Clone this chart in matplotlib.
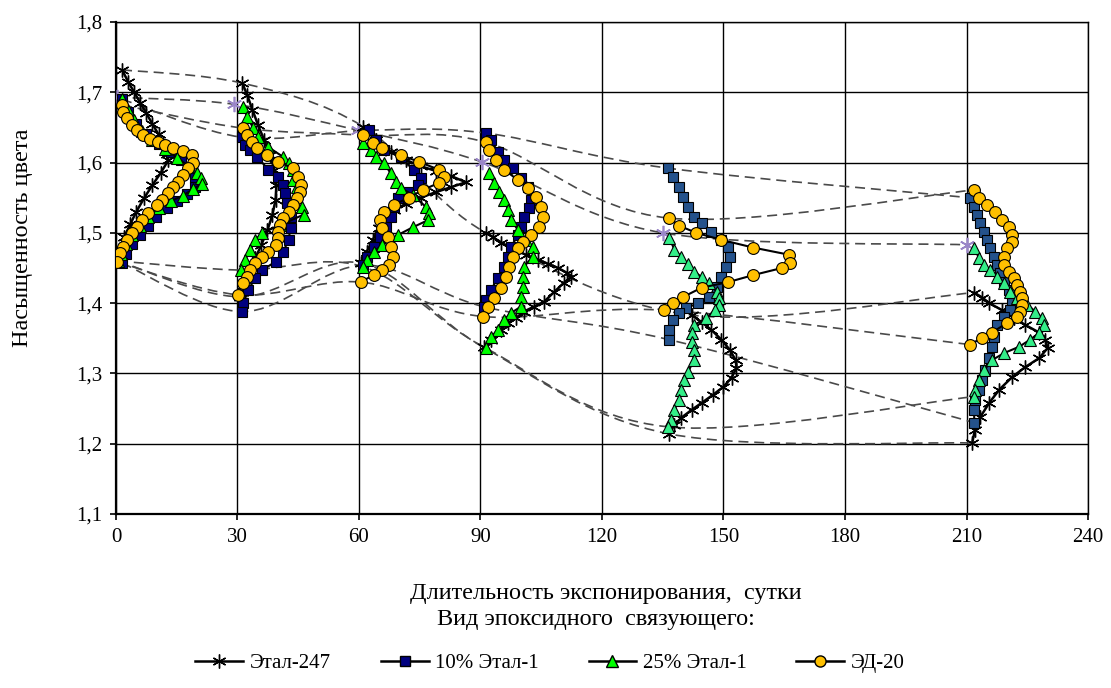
import numpy as np
import matplotlib
matplotlib.use("Agg")
import matplotlib.pyplot as plt
from matplotlib.path import Path
from matplotlib.patches import PathPatch
from matplotlib.lines import Line2D
from matplotlib.ticker import FuncFormatter

plt.rcParams['font.family'] = ['Liberation Serif', 'DejaVu Serif']

# Этал-247, points (days, saturation) for each exposure group
e247_0 = [(1.5,1.732),(3,1.715),(4.5,1.70),(6,1.685),(7.5,1.67),(9,1.655),(10.5,1.64),(11.5,1.625),
          (12.5,1.612),(12.9,1.603),(11,1.585),(9,1.568),(7,1.55),(5,1.53),(3.5,1.512),(2,1.494),(1,1.477),(0.5,1.46)]
e247_30 = [(31.2,1.713),(32.4,1.696),(33.7,1.675),(35.1,1.653),(36.6,1.632),(38.1,1.611),(39.1,1.589),(39.6,1.568),
           (39.4,1.547),(38.6,1.525),(37.4,1.504),(35.9,1.483),(34.4,1.464),(32.9,1.444),(31.7,1.426),(30.7,1.409)]
e247_60 = [(61.1,1.651),(64.1,1.632),(67.8,1.615),(71.5,1.604),(75.2,1.595),(79.0,1.588),(82.7,1.581),(86.4,1.572),
           (82.7,1.565),(79.0,1.558),(75.2,1.550),(71.5,1.541),(68.6,1.533),(66.6,1.521),(64.9,1.507),(63.4,1.490),
           (61.9,1.473),(60.6,1.457)]
e247_90 = [(91.3,1.500),(93.1,1.494),(95.0,1.486),(98.3,1.476),(101.2,1.469),(104.2,1.462),(106.7,1.456),(109.2,1.450),
           (111.4,1.443),(112.4,1.437),(110.6,1.429),(108.2,1.416),(105.7,1.402),(103.2,1.395),(100.7,1.388),(98.8,1.379),
           (96.8,1.372),(95.0,1.362),(92.6,1.348),(90.8,1.337)]
e247_135 = [(142.1,1.383),(144.6,1.373),(147.0,1.362),(149.5,1.348),(151.5,1.334),(153.0,1.319),(153.2,1.308),(152.0,1.294),
            (150.0,1.281),(147.5,1.270),(144.6,1.258),(142.1,1.248),(139.6,1.237),(137.9,1.227),(136.6,1.214)]
e247_210 = [(211.9,1.415),(213.9,1.408),(215.6,1.400),(218.8,1.390),(221.8,1.379),(224.5,1.369),(228.0,1.358),(229.5,1.348),
            (230.0,1.336),(228.0,1.322),(224.5,1.309),(221.3,1.295),(218.1,1.277),(215.6,1.258),(213.4,1.238),(212.1,1.220),
            (211.4,1.201)]

# 10% Этал-1
b10_0 = [(1.5,1.69),(3,1.672),(5,1.655),(7.5,1.64),(10.5,1.627),(13.5,1.615),(16,1.603),(18,1.59),(19.5,1.578),
         (19.5,1.565),(17.5,1.555),(15,1.545),(12.5,1.535),(10,1.522),(8,1.51),(6,1.497),(4,1.484),(2.5,1.47),(1.5,1.457)]
b10_30 = [(31.2,1.636),(31.9,1.625),(33.2,1.618),(34.9,1.608),(37.6,1.590),(40.1,1.580),(41.3,1.568),(41.8,1.557),
          (42.3,1.543),(43.1,1.523),(43.1,1.507),(42.6,1.490),(41.3,1.473),(39.4,1.459),(36.1,1.447),(34.4,1.436),
          (32.7,1.419),(31.4,1.400),(31.2,1.388)]
b10_60 = [(62.4,1.646),(64.1,1.632),(66.1,1.618),(70.3,1.608),(73.5,1.590),(75.2,1.578),(74.5,1.568),(72.0,1.558),
          (69.6,1.550),(68.6,1.537),(67.8,1.523),(66.6,1.508),(65.3,1.494),(63.6,1.480),(62.1,1.466),(61.1,1.454)]
b10_90 = [(91.3,1.642),(92.6,1.632),(94.3,1.615),(95.8,1.604),(98.0,1.592),(100.0,1.578),(101.7,1.565),(102.5,1.547),
          (102.0,1.535),(100.7,1.523),(100.0,1.508),(99.3,1.497),(97.5,1.480),(96.8,1.466),(95.8,1.452),(94.3,1.436),
          (92.6,1.419),(91.3,1.405),(90.8,1.395)]
b10_135 = [(136.4,1.592),(137.6,1.580),(138.9,1.565),(140.1,1.551),(141.3,1.537),(142.6,1.523),(144.6,1.514),(147.0,1.501),
           (149.5,1.490),(151.2,1.480),(151.5,1.466),(150.7,1.452),(149.5,1.437),(148.3,1.423),(146.3,1.409),(143.8,1.400),
           (140.8,1.393),(138.9,1.386),(137.6,1.376),(136.6,1.362),(136.6,1.348)]
b10_210 = [(210.9,1.550),(211.9,1.537),(212.6,1.526),(213.4,1.514),(214.4,1.501),(215.1,1.490),(215.8,1.479),(216.8,1.466),
           (217.6,1.454),(218.3,1.443),(219.3,1.430),(220.5,1.419),(221.3,1.400),(220.8,1.390),(219.3,1.381),(217.6,1.369),
           (216.8,1.352),(216.3,1.338),(215.6,1.322),(214.6,1.305),(213.9,1.291),(213.1,1.277),(212.1,1.262),(211.9,1.248),
           (211.9,1.230)]

# 25% Этал-1
g25_0 = [(1.5,1.69),(3,1.675),(4.5,1.66),(6.5,1.645),(9,1.632),(12,1.62),(15,1.607),(18,1.595),(20,1.585),(21,1.578),
         (21.3,1.57),(19,1.562),(16.5,1.553),(13.5,1.545),(10.5,1.535),(8,1.523),(6,1.51),(4,1.497),(2.5,1.484),
         (1.2,1.47),(0.5,1.46)]
g25_30 = [(31.4,1.679),(32.4,1.665),(33.9,1.649),(35.1,1.636),(37.6,1.622),(41.3,1.608),(42.6,1.599),(43.6,1.589),
          (43.8,1.575),(44.8,1.565),(46.0,1.537),(46.3,1.526),(40.6,1.511),(36.1,1.500),(34.4,1.490),(33.2,1.476),
          (31.9,1.462),(30.9,1.447)]
g25_60 = [(61.1,1.628),(62.9,1.618),(64.1,1.608),(66.1,1.600),(67.8,1.585),(69.1,1.572),(70.3,1.564),(73.3,1.554),
          (76.5,1.537),(77.2,1.528),(77.0,1.518),(73.3,1.508),(69.6,1.497),(65.8,1.483),(63.6,1.473),(62.1,1.462),
          (60.9,1.452)]
g25_90 = [(92.1,1.585),(93.3,1.571),(94.6,1.558),(95.8,1.547),(96.8,1.533),(97.5,1.518),(99.3,1.504),(101.2,1.490),
          (103.0,1.480),(103.0,1.466),(100.7,1.452),(100.5,1.437),(100.5,1.423),(100.0,1.409),(100.0,1.395),(97.5,1.386),
          (95.8,1.376),(94.3,1.362),(92.6,1.352),(91.3,1.336)]
g25_135 = [(136.6,1.493),(137.9,1.476),(139.6,1.466),(141.3,1.455),(142.8,1.445),(144.6,1.437),(146.5,1.429),(148.3,1.416),
           (149.0,1.408),(149.0,1.398),(147.8,1.390),(145.8,1.379),(142.8,1.369),(142.1,1.358),(142.1,1.345),(142.6,1.334),
           (142.6,1.319),(141.3,1.302),(140.3,1.291),(139.6,1.277),(138.9,1.262),(137.9,1.248),(137.1,1.234),(136.4,1.224)]
g25_210 = [(211.9,1.479),(213.1,1.464),(214.4,1.454),(215.8,1.447),(217.6,1.437),(219.3,1.429),(220.8,1.416),(222.5,1.408),
           (225.0,1.398),(227.0,1.388),(228.7,1.379),(229.2,1.369),(228.0,1.358),(225.7,1.348),(223.0,1.338),(219.3,1.329),
           (216.3,1.319),(214.4,1.305),(213.1,1.291),(212.1,1.277),(211.9,1.267)]

# ЭД-20
y20_0 = [(1.5,1.682),(1.7,1.672),(2.7,1.664),(4.0,1.654),(5.2,1.646),(6.7,1.639),(8.4,1.634),(10.4,1.629),(12.1,1.625),
         (14.1,1.621),(16.6,1.617),(18.8,1.611),(19.1,1.599),(17.8,1.592),(16.6,1.582),(15.3,1.572),(14.1,1.565),
         (12.9,1.557),(11.4,1.547),(10.1,1.540),(7.9,1.528),(6.4,1.518),(5.2,1.508),(4.0,1.500),(2.7,1.490),(1.7,1.480),
         (1.0,1.471),(0.2,1.459)]
y20_30 = [(31.4,1.649),(32.4,1.639),(33.7,1.629),(34.9,1.621),(37.4,1.611),(40.1,1.601),(43.6,1.592),(45.0,1.580),
          (45.8,1.568),(45.5,1.558),(44.8,1.550),(43.8,1.540),(42.6,1.530),(41.3,1.521),(40.6,1.511),(40.1,1.501),
          (39.9,1.493),(39.4,1.483),(37.6,1.473),(36.1,1.466),(34.4,1.457),(33.2,1.447),(32.4,1.437),(31.4,1.429),
          (30.2,1.412)]
y20_60 = [(61.1,1.639),(63.4,1.628),(65.8,1.621),(70.3,1.611),(74.8,1.601),(79.7,1.590),(80.9,1.580),(79.7,1.571),
          (75.7,1.561),(72.3,1.550),(68.6,1.540),(66.1,1.530),(65.3,1.518),(65.8,1.507),(67.1,1.494),(67.8,1.480),
          (68.3,1.466),(67.3,1.454),(65.8,1.447),(63.6,1.440),(60.4,1.430)]
y20_90 = [(91.3,1.629),(92.1,1.618),(93.8,1.604),(95.8,1.590),(99.3,1.575),(101.7,1.564),(103.7,1.551),(105.0,1.537),
          (105.4,1.523),(104.5,1.508),(102.5,1.497),(100.5,1.487),(99.3,1.479),(98.0,1.466),(97.0,1.452),(96.3,1.437),
          (95.0,1.422),(93.3,1.408),(91.8,1.395),(90.6,1.381)]
y20_135 = [(136.6,1.521),(139.1,1.510),(143.3,1.500),(149.5,1.490),(157.4,1.479),(166.1,1.469),(166.3,1.457),(164.4,1.450),
           (157.4,1.440),(151.2,1.430),(144.6,1.422),(140.1,1.409),(137.6,1.400),(135.4,1.390)]
y20_210 = [(211.9,1.561),(213.1,1.550),(215.1,1.540),(217.1,1.530),(218.8,1.518),(220.5,1.508),(221.3,1.497),(221.3,1.487),
           (220.0,1.479),(219.3,1.466),(219.3,1.454),(220.5,1.444),(221.8,1.436),(222.5,1.426),(223.3,1.416),(223.8,1.408),
           (223.8,1.398),(223.3,1.388),(222.5,1.381),(220.0,1.372),(216.3,1.358),(213.9,1.351),(210.9,1.341)]

# purple start marks
start_marks = [(0.2,1.693),(29.2,1.683),(59.7,1.646),(90.3,1.601),(135.0,1.500),(210.1,1.483)]

e247 = [e247_0, e247_30, e247_60, e247_90, e247_135, e247_210]
b10 = [b10_0, b10_30, b10_60, b10_90, b10_135, b10_210]
g25 = [g25_0, g25_30, g25_60, g25_90, g25_135, g25_210]
y20 = [y20_0, y20_30, y20_60, y20_90, y20_135, y20_210]

blue_early, blue_late = '#000080', '#24528c'
green_early, green_late = '#00ff00', '#33ee88'
yellow = '#ffc000'
star = (6, 2, 0)


def smooth(pts):
    # Excel-like smoothed line (Catmull-Rom as bezier)
    p = np.array(pts, dtype=float)
    n = len(p)
    verts = [p[0]]
    codes = [Path.MOVETO]
    for i in range(n - 1):
        p0 = p[max(i - 1, 0)]
        p1 = p[i]
        p2 = p[i + 1]
        p3 = p[min(i + 2, n - 1)]
        verts += [p1 + (p2 - p0) / 6, p2 - (p3 - p1) / 6, p2]
        codes += [Path.CURVE4] * 3
    return Path(verts, codes)


fig = plt.figure(figsize=(11.11, 6.88), dpi=100)
ax = fig.add_axes([0.1044, 0.2529, 0.8749, 0.7151])
ax.set_xlim(0, 240)
ax.set_ylim(1.1, 1.8)
ax.set_xticks(np.arange(0, 241, 30))
ax.set_yticks(np.arange(1.1, 1.81, 0.1))
ax.grid(True, color='black', lw=1.0)
ax.set_axisbelow(True)
for s in ax.spines.values():
    s.set_color('black')
    s.set_linewidth(1.0)
ax.spines['left'].set_linewidth(1.6)
ax.spines['bottom'].set_linewidth(1.6)
ax.yaxis.set_major_formatter(FuncFormatter(lambda v, p: f"{v:.1f}".replace('.', ',')))
ax.tick_params(labelsize=15, length=4, width=1.2, color='black', pad=6)

# dashed connecting curves through first / last points
dash_kw = dict(fill=False, edgecolor='#4a4a4a', lw=1.2, linestyle=(0, (6, 3.5)), zorder=2)
for series in (e247, b10, y20):
    ax.add_patch(PathPatch(smooth([g[0] for g in series]), **dash_kw))
ax.add_patch(PathPatch(smooth(start_marks), **dash_kw))
for series in (e247, b10, g25, y20):
    ax.add_patch(PathPatch(smooth([g[-1] for g in series]), **dash_kw))

sx, sy = zip(*start_marks)
ax.plot(sx, sy, ls='none', marker=star, ms=11, color='#9a86c8', mew=1.2, zorder=3)

for k in range(6):
    bc = blue_early if k < 4 else blue_late
    gc = green_early if k < 4 else green_late
    x, y = zip(*e247[k])
    ax.plot(x, y, color='black', lw=1.8, marker=star, ms=10, mew=1.0, zorder=4)
    x, y = zip(*b10[k])
    ax.plot(x, y, color='black', lw=1.5, marker='s', ms=7, mfc=bc, mec='black', mew=0.8, zorder=5)
    x, y = zip(*g25[k])
    ax.plot(x, y, color='black', lw=1.5, marker='^', ms=8, mfc=gc, mec='black', mew=0.8, zorder=6)
    x, y = zip(*y20[k])
    ax.plot(x, y, color='black', lw=1.5, marker='o', ms=8.5, mfc=yellow, mec='black', mew=0.8, zorder=7)

fig.text(0.02, 0.655, 'Насыщенность цвета', rotation=90, ha='center', va='center', fontsize=17.5)
fig.text(0.545, 0.138, 'Длительность экспонирования,  сутки', ha='center', va='center', fontsize=17.5)
fig.text(0.536, 0.099, 'Вид эпоксидного  связующего:', ha='center', va='center', fontsize=17.5)

handles = [
    Line2D([], [], color='black', lw=1.8, marker=star, ms=10),
    Line2D([], [], color='black', lw=1.8, marker='s', ms=7, mfc=blue_early, mec='black'),
    Line2D([], [], color='black', lw=1.8, marker='^', ms=8, mfc=green_early, mec='black'),
    Line2D([], [], color='black', lw=1.8, marker='o', ms=8, mfc=yellow, mec='black'),
]
labels = ['Этал-247', '10% Этал-1', '25% Этал-1', 'ЭД-20']
fig.legend(handles, labels, loc='center', bbox_to_anchor=(0.495, 0.036), ncol=4, frameon=False,
           fontsize=15, handlelength=2.3, columnspacing=2.4, handletextpad=0.3)

fig.savefig('out.png', dpi=100)
